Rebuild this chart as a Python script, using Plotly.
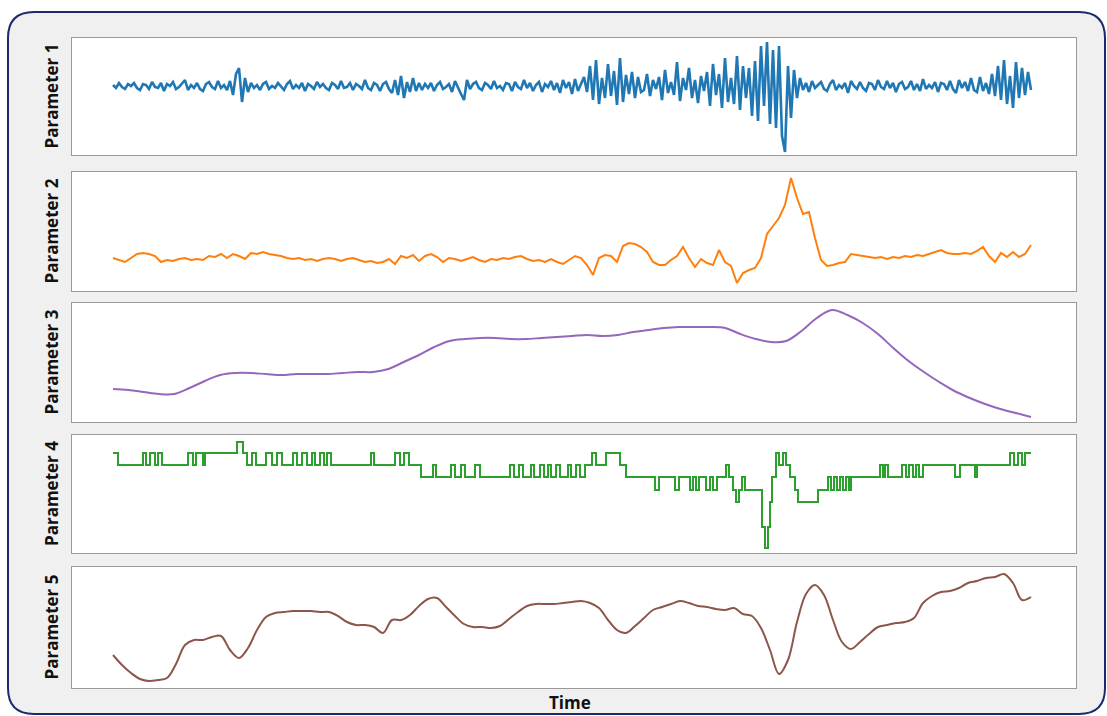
import numpy as np
import plotly.graph_objects as go

# Parameter 1 - vibration-like signal (units above baseline)
param1 = [
    1, -2, 3, -1, -3, 2, 0, 3, -2, -4, 2, 1, -3, 4, -1, -2, 3, -5, 2, 0,
    4, -3, -1, 2, 6, -4, 1, -2, 3, -3, -5, 2, 4, -1, -3, 5, -2, 1, -4,
    5, -9, 12, 18, -16, 8, -6,
    3, -2, 1, -4, 2, 4, -3, 0, -2, 3,
    -1, -4, 2, 5, -3, 1, -2, 3, -5, 2,
    0, -3, 4, -1, 2, -2, -4, 3, 1, -3,
    5, -2, -1, 3, -4, 2, 0, -3, 6, -2,
    -4, 3, 1, -5, 2, 4, -3, -7, 6, -9,
    10, -12, 4, -6, 8, -5, 3, -4, 2, -2,
    3, -5, 1, 4, -3, -1, 2, -6, 5, -2,
    -8, -14, 6, -3, 2, 4, -2, -4, 3, 1,
    -3, 5, -2, 0, -4, 3, 2, -5, 4, -1,
    -3, 6, -2, 3, -5, 1, 4, -6, 2, -1,
    5, -4, 3, -7, 6, -2, 4, -8, 7, -5,
    3, 9, -6,
    20, -14, 26, -18, 8, -12, 22, -10, 15, -19, 28, -16, 11, -8, 14, -12, 9, -6,
    -4, 12, -10, 6, -3, 9, -14, 16, -7, 4,
    -9, 24, -15, 8, -4, 18, -12, 6, -17, 10,
    -5, 14, -20, 22, -9, 12, -22, 28, -16, 8,
    -18, 30, -24, 20,
    -12, 18, -30, 25, -35, 40, -20, 44, -38, 36, -42, 40, -50, -66, 20, -32, 16, -12, 8,
    -4, 3, -6, 5, -2, 1, 4, -3, -5, 2,
    6, -4, 1, -2, 3, -7, 5, 0, -3, 4,
    -2, -5, 3, 2, -4, 6, -1, -3, 5, -2,
    3, -6, 2, 4, -3, -1, 5, -4, 2, -5,
    7, -3, 1, -2, 4, -6, 3, 2, -4, 5,
    -3, -7, 6, -2, 4, -5, 8, -4, -6, 9,
    -5, 3, -8,
    12, -10, 20, -14, 26, -18, 10, -22, 24, -12, 18, -9, 14, -4,
]

# Parameter 2
param2 = [
    33, 31, 29, 33, 37, 38, 37, 35, 29, 31,
    30, 32, 33, 31, 32, 31, 35, 34, 37, 33,
    37, 35, 32, 38, 37, 39, 37, 36, 35, 33,
    32, 33, 31, 32, 30, 32, 33, 32, 30, 32,
    33, 31, 29, 30, 28, 29, 32, 27, 35, 33,
    36, 30, 35, 37, 34, 29, 33, 32, 30, 32,
    34, 31, 29, 32, 31, 33, 32, 34, 35, 32,
    30, 31, 29, 32, 29, 27, 31, 35, 33, 26,
    16, 33, 36, 35, 29, 45, 48, 47, 44, 39,
    29, 26, 26, 31, 35, 44, 33, 24, 32, 28,
    26, 41, 29, 25, 8, 18, 21, 23, 33, 57,
    65, 73, 86, 113, 93, 77, 79, 53, 31, 25,
    26, 28, 29, 37, 36, 35, 34, 33, 34, 32,
    34, 33, 35, 34, 36, 35, 37, 39, 41, 38,
    37, 37, 38, 37, 40, 44, 35, 29, 38, 34,
    39, 34, 37, 46,
]

# Parameter 3 - slow drift
param3 = [
    33, 32, 30, 28, 28, 34, 41, 47, 49, 49,
    48, 47, 48, 48, 48, 49, 50, 50, 53, 60,
    67, 75, 81, 83, 84, 84, 83, 83, 84, 85,
    86, 87, 86, 87, 90, 92, 94, 95, 95, 95,
    94, 88, 83, 80, 81, 91, 104, 112, 107, 99,
    88, 74, 61, 50, 40, 31, 24, 18, 13, 9,
    5,
]

# Parameter 4 - discrete state (step changes)
param4_time = [
    0, 5, 30, 33, 37, 42, 45, 49, 75, 80, 83, 90, 92, 124, 130, 134, 139, 143,
    153, 159, 164, 169, 180, 184, 189, 194, 199, 202, 207, 211, 214, 218, 258,
    261, 282, 287, 291, 296, 308, 320, 323, 338, 342, 348, 352, 362, 367, 397,
    401, 406, 410, 418, 421, 427, 431, 435, 438, 443, 447, 455, 458, 463, 467,
    472, 479, 483, 493, 507, 513, 542, 546, 562, 566, 577, 580, 583, 586, 593,
    597, 600, 604, 613, 616, 620, 623, 626, 629, 632, 649, 652, 655, 657, 659,
    663, 666, 670, 673, 677, 682, 685, 705, 715, 718, 721, 724, 727, 730, 733,
    736, 738, 767, 770, 772, 775, 789, 793, 796, 800, 803, 806, 810, 842, 847,
    862, 864, 897, 901, 905, 909, 912, 918,
]
param4_level = [
    100, 88, 100, 88, 100, 88, 100, 88, 100, 88, 100, 88, 100, 111, 100, 88, 100, 88,
    100, 88, 100, 88, 100, 88, 100, 88, 100, 88, 100, 88, 100, 88, 100,
    88, 100, 88, 100, 88, 76, 88, 76, 88, 76, 88, 76, 88, 76, 88,
    76, 88, 76, 88, 76, 88, 76, 88, 76, 88, 76, 88, 76, 88, 76,
    88, 100, 88, 100, 88, 76, 63, 76, 63, 76, 63, 76, 63, 76, 63,
    76, 63, 76, 88, 76, 63, 51, 63, 76, 63, 26, 5, 26, 51, 76,
    100, 88, 100, 88, 76, 63, 51, 63, 76, 63, 76, 63, 76, 63, 76,
    63, 76, 88, 76, 88, 76, 88, 76, 88, 76, 88, 76, 88, 76, 88,
    76, 88, 100, 88, 100, 88, 100, 100,
]

# Parameter 5
param5 = [
    33, 23, 15, 9, 7, 8, 10, 24, 43, 48,
    48, 51, 52, 38, 30, 40, 58, 71, 75, 76,
    77, 77, 77, 76, 76, 72, 66, 63, 63, 61,
    55, 68, 68, 73, 82, 89, 90, 81, 72, 64,
    61, 61, 60, 62, 69, 76, 82, 84, 84, 84,
    85, 86, 87, 85, 80, 68, 58, 55, 62, 70,
    78, 81, 84, 87, 85, 82, 81, 79, 78, 80,
    74, 72, 60, 38, 14, 28, 66, 94, 103, 93,
    68, 46, 39, 46, 54, 61, 63, 65, 66, 70,
    85, 92, 96, 97, 100, 105, 107, 110, 111, 114,
    105, 88, 91,
]

labels = ["Parameter 1", "Parameter 2", "Parameter 3", "Parameter 4", "Parameter 5"]
colors = ["#1f77b4", "#ff7f0e", "#9467bd", "#2ca02c", "#8c564b"]
y_ranges = [[-69, 48], [0, 119], [0, 119], [0, 118], [0, 121]]

W, H = 1107, 716


def px(x):
    return x / W


def py(y):
    return 1 - y / H


# panel boxes in pixels (top, bottom)
panels = [(38, 155), (172, 291), (303, 422), (435, 553), (567, 688)]
left, right = 72, 1076

t_end = 918
fig = go.Figure()

# rounded frame behind everything
x0, y0, x1, y1, r = 8, 12, 1105, 714, 26
frame = (
    f"M {px(x0 + r)},{py(y0)} L {px(x1 - r)},{py(y0)} "
    f"Q {px(x1)},{py(y0)} {px(x1)},{py(y0 + r)} L {px(x1)},{py(y1 - r)} "
    f"Q {px(x1)},{py(y1)} {px(x1 - r)},{py(y1)} L {px(x0 + r)},{py(y1)} "
    f"Q {px(x0)},{py(y1)} {px(x0)},{py(y1 - r)} L {px(x0)},{py(y0 + r)} "
    f"Q {px(x0)},{py(y0)} {px(x0 + r)},{py(y0)} Z"
)
fig.add_shape(type="path", path=frame, xref="paper", yref="paper",
              fillcolor="#f0f0f0", line=dict(color="#1c2a6e", width=2),
              layer="below")

series = [param1, param2, param3, None, param5]
for k in range(5):
    axis = "" if k == 0 else str(k + 1)
    if k == 3:
        fig.add_trace(go.Scatter(
            x=param4_time, y=param4_level, mode="lines", line_shape="hv",
            line=dict(color=colors[k], width=2),
            xaxis="x" + axis, yaxis="y" + axis, showlegend=False))
    else:
        vals = series[k]
        t = np.linspace(0, t_end, len(vals))
        shape = "spline" if k in (2, 4) else "linear"
        fig.add_trace(go.Scatter(
            x=t, y=vals, mode="lines",
            line=dict(color=colors[k], width=2.6 if k == 0 else 2, shape=shape),
            xaxis="x" + axis, yaxis="y" + axis, showlegend=False))

    top, bot = panels[k]
    xa = dict(domain=[px(left), px(right)], range=[-41, t_end + 45],
              showticklabels=False, ticks="", showgrid=False, zeroline=False,
              showline=True, mirror=True, linecolor="#9a9a9a", linewidth=1)
    ya = dict(domain=[py(bot), py(top)], range=y_ranges[k],
              showticklabels=False, ticks="", showgrid=False, zeroline=False,
              showline=True, mirror=True, linecolor="#9a9a9a", linewidth=1)
    if k > 0:
        xa["anchor"] = "y" + axis
        xa["matches"] = "x"
        ya["anchor"] = "x" + axis
    fig.update_layout({"xaxis" + axis: xa, "yaxis" + axis: ya})

    # white panel face on top of the grey frame
    fig.add_shape(type="rect", xref="paper", yref="paper",
                  x0=px(left), x1=px(right), y0=py(bot), y1=py(top),
                  fillcolor="white", line=dict(width=0), layer="below")

    fig.add_annotation(
        text="<b>%s</b>" % labels[k], x=px(51), y=py((top + bot) / 2),
        xref="paper", yref="paper", textangle=-90, showarrow=False,
        xanchor="center", yanchor="middle",
        font=dict(family="Open Sans", size=17, color="#111111"))

fig.add_annotation(
    text="<b>Time</b>", x=px(570), y=py(702), xref="paper", yref="paper",
    showarrow=False, xanchor="center", yanchor="middle",
    font=dict(family="Open Sans", size=17, color="#111111"))

fig.update_layout(
    width=W, height=H,
    margin=dict(l=0, r=0, t=0, b=0),
    paper_bgcolor="white",
    plot_bgcolor="white",
)

fig.write_html("out.html", config={"displayModeBar": False},
               post_script="document.body.style.margin='0';")
